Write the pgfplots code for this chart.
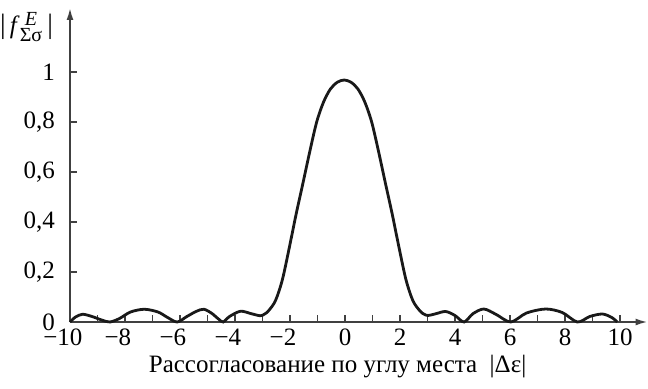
\documentclass[border=0pt]{standalone}
\usepackage{fontspec}
\setmainfont{Liberation Serif}
\usepackage{pgfplots}
\pgfplotsset{compat=1.18}
\usetikzlibrary{arrows.meta}
\pgfplotstableread{
x y
-10 0
-9.8 0.02
-9.54 0.031
-9.2 0.022
-8.85 0.008
-8.55 0
-8.2 0.014
-7.8 0.040
-7.3 0.051
-6.8 0.040
-6.45 0.018
-6.1 0
-5.75 0.022
-5.4 0.043
-5.13 0.051
-4.85 0.035
-4.6 0.012
-4.43 0
-4.2 0.022
-3.8 0.043
-3.4 0.033
-3.08 0.025
-2.92 0.032
-2.78 0.045
-2.53 0.085
-2.28 0.168
-2.03 0.295
-1.78 0.43
-1.53 0.555
-1.28 0.682
-1.03 0.80
-0.78 0.88
-0.53 0.932
-0.28 0.959
-0.03 0.968
0.22 0.959
0.47 0.932
0.72 0.88
0.97 0.80
1.22 0.682
1.47 0.555
1.72 0.43
1.97 0.295
2.22 0.168
2.47 0.085
2.72 0.045
2.86 0.032
3.02 0.026
3.3 0.033
3.66 0.042
4.0 0.026
4.33 0
4.65 0.033
5.05 0.052
5.5 0.03
6.03 0
6.6 0.036
7.3 0.052
7.9 0.038
8.45 0
8.9 0.022
9.36 0.032
9.7 0.018
9.9 0
}\curve
\begin{document}
\begin{tikzpicture}[font=\fontsize{12.5bp}{15bp}\selectfont]
\begin{axis}[
  scale only axis, width=288.75bp, height=157bp,
  xmin=-10, xmax=11, ymin=0, ymax=1.256,
  axis lines=left,
  axis line style={draw=black!75, line width=0.9bp, -{Latex[length=6bp,width=3.5bp]}},
  tick style={draw=black!75, line width=0.7bp},
  xtick={-10,-8,...,10}, minor xtick={-9,-7,...,9},
  xticklabels={\llap{−}10,\llap{−}8,\llap{−}6,\llap{−}4,\llap{−}2,0,2,4,6,8,10},
  ytick={0,0.2,0.4,0.6,0.8,1},
  yticklabels={0,{0,2},{0,4},{0,6},{0,8},1},
  tick align=inside, major tick length=3.5bp, minor tick length=3.5bp,
  ticklabel style={font=\fontsize{12.5bp}{15bp}\selectfont},
  yticklabel style={xshift=-4bp},
  clip=false,
]
\addplot[smooth, line width=1.4bp, black!90] table[x=x,y=y] {\curve};
\node[anchor=east, xshift=-5bp] at (axis cs:-10,1.18)
  {{\fontsize{14bp}{15bp}\selectfont|}\,\textit{f}$^{\hbox{\fontsize{10bp}{10bp}\selectfont\itshape\ E}}_{\hbox{\fontsize{10bp}{10bp}\selectfont Σσ}}$\,{\fontsize{14bp}{15bp}\selectfont|}};
\node[anchor=base] at (axis cs:-0.27,0) [yshift=-25bp]
  {Рассогласование по углу места\ \ |Δε|};
\end{axis}
\pgfresetboundingbox
\path[use as bounding box] (-35bp,-33.5bp) rectangle (289bp,161bp);
\end{tikzpicture}
\end{document}
